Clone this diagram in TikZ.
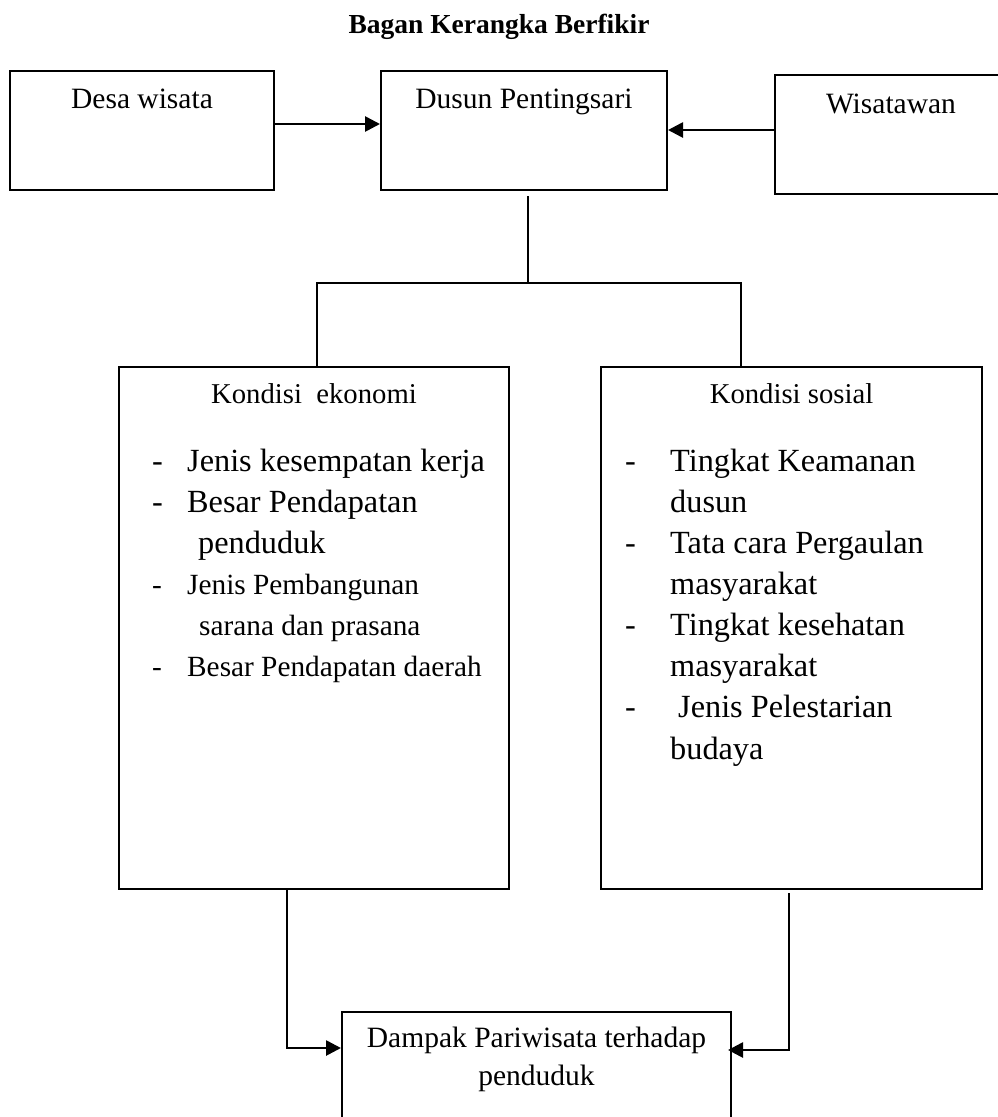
\documentclass[tikz,border=0pt]{standalone}
\usepackage{fontspec}
\setmainfont{Liberation Serif}
\usetikzlibrary{arrows.meta}
\tikzset{
  box/.style 2 args={draw, line width=2pt, inner sep=0pt, minimum width=#1, minimum height=#2},
  lbl/.style={font=\fontsize{29.5pt}{35pt}\selectfont, inner sep=0pt, anchor=base},
  head/.style={font=\fontsize{28.7pt}{34pt}\selectfont, inner sep=0pt, anchor=base},
  big/.style={font=\fontsize{32.3pt}{38pt}\selectfont, inner sep=0pt, anchor=base west},
  small/.style={font=\fontsize{29.3pt}{35pt}\selectfont, inner sep=0pt, anchor=base west},
  conn/.style={line width=2pt},
  arr/.style={line width=2.7pt, -{Triangle[length=15pt,width=15pt]}}
}
\begin{document}
\begin{tikzpicture}[x=1pt,y=-1pt]
\useasboundingbox (0,0) rectangle (998,1117);
\fill[white] (0,0) rectangle (998,1117);

\node[font=\bfseries\fontsize{27.5pt}{33pt}\selectfont, inner sep=0pt, anchor=base] (title) at (499,33) {Bagan Kerangka Berfikir};

% top row
\node[box={264}{119}] (desa) at (142,130.5) {};
\node[box={286}{119}] (dusun) at (524,130.5) {};
\node[box={237}{119}] (wis) at (893.5,134.5) {};
\node[lbl] (tdesa) at (142,108) {Desa wisata};
\node[lbl] (tdusun) at (524,108) {Dusun Pentingsari};
\node[lbl] (twis) at (891,113) {Wisatawan};

\draw[arr] ([yshift=6.5pt]desa.east) -- ([yshift=6.5pt]dusun.west);
\draw[arr] ([yshift=4.5pt]wis.west) -- ([yshift=0.5pt]dusun.east);

% middle boxes
\node[box={390}{522}] (eko) at (314,628) {};
\node[box={381}{522}] (sos) at (791.5,628) {};

\coordinate (j) at (528,283);
\draw[conn] (j |- dusun.south) ++(0,5) -- (j);
\draw[conn] (eko.north -| 317,0) -- (317,283) -- (741,283) -- (sos.north -| 741,0);

\node[head] (heko) at (314,403) {Kondisi~ ekonomi};
\node[head] (hsos) at (791.5,403) {Kondisi sosial};

% left list
\node[big] (ld1) at (152,471) {-};
\node[big] (l1) at (187,471) {Jenis kesempatan kerja};
\node[big] (ld2) at (152,512.2) {-};
\node[big] (l2) at (187,512.2) {Besar Pendapatan};
\node[big] (l3) at (198,553.3) {penduduk};
\node[small] (ld4) at (152,594.5) {-};
\node[small] (l4) at (187,594.5) {Jenis Pembangunan};
\node[small] (l5) at (199,635.6) {sarana dan prasana};
\node[small] (ld6) at (152,676.8) {-};
\node[small] (l6) at (187,676.8) {Besar Pendapatan daerah};

% right list
\node[big] (rd1) at (625,471) {-};
\node[big] (r1) at (670,471) {Tingkat Keamanan};
\node[big] (r2) at (670,512.2) {dusun};
\node[big] (rd3) at (625,553.3) {-};
\node[big] (r3) at (670,553.3) {Tata cara Pergaulan};
\node[big] (r4) at (670,594.5) {masyarakat};
\node[big] (rd5) at (625,635.6) {-};
\node[big] (r5) at (670,635.6) {Tingkat kesehatan};
\node[big] (r6) at (670,676.8) {masyarakat};
\node[big] (rd7) at (625,717.9) {-};
\node[big] (r7) at (678,717.9) {Jenis Pelestarian};
\node[big] (r8) at (670,759) {budaya};

% bottom box
\node[box={389}{130}] (dampak) at (536.5,1077) {};
\node[lbl] (td1) at (536.5,1047) {Dampak Pariwisata terhadap};
\node[lbl] (td2) at (536.5,1085) {penduduk};

\draw[arr] (eko.south -| 287,0) |- (dampak.west |- 0,1048);
\draw[arr, shorten >=-4pt] (sos.south -| 789,0) ++(0,3) |- (dampak.east |- 0,1050);
\end{tikzpicture}
\end{document}
